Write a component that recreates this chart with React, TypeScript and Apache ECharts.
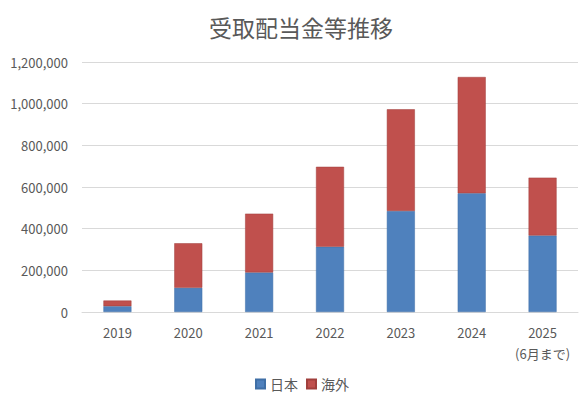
import React, { useEffect, useRef } from "react";
import * as echarts from "echarts";

const categories = ["2019", "2020", "2021", "2022", "2023", "2024", "2025\n(6月まで)"];
const japanValues = [28000, 116000, 190000, 313000, 485000, 570000, 367000];
const foreignValues = [27000, 214000, 282000, 384000, 488000, 558000, 278000];
const seriesNames = ["日本", "海外"];

export default function App() {
  const ref = useRef<HTMLDivElement>(null);
  useEffect(() => {
    document.body.style.margin = "0";
    const chart = echarts.init(ref.current!, null, { renderer: "svg" });
    const font = "'Noto Sans CJK JP', 'Noto Sans', sans-serif";
    chart.setOption({
      animation: false,
      backgroundColor: "#ffffff",
      title: {
        text: "受取配当金等推移",
        left: 296,
        textAlign: "center",
        top: 10,
        textStyle: { fontFamily: font, fontSize: 23, fontWeight: "normal", color: "#595959" },
      },
      legend: {
        data: seriesNames,
        bottom: 2,
        left: 250,
        itemWidth: 9,
        itemHeight: 9,
        itemGap: 8,
        icon: "rect",
        textStyle: { fontFamily: font, fontSize: 14, color: "#595959" },
      },
      grid: { left: 82, right: 8, top: 62, bottom: 86 },
      xAxis: {
        type: "category",
        data: categories,
        axisLine: { lineStyle: { color: "#d9d9d9" } },
        axisTick: { show: false },
        axisLabel: { interval: 0, fontFamily: font, fontSize: 13, color: "#595959", margin: 10, lineHeight: 21 },
      },
      yAxis: {
        type: "value",
        min: 0,
        max: 1200000,
        interval: 200000,
        axisLabel: {
          fontFamily: font,
          fontSize: 13,
          color: "#595959",
          margin: 14,
          formatter: (v: number) => v.toLocaleString("en-US"),
        },
        splitLine: { lineStyle: { color: "#d9d9d9" } },
        axisLine: { show: false },
        axisTick: { show: false },
      },
      series: [
        {
          name: seriesNames[0],
          type: "bar",
          stack: "total",
          data: japanValues,
          barWidth: 28,
          itemStyle: { color: "#4F81BD", borderColor: "#3f6fa6", borderWidth: 0.5 },
        },
        {
          name: seriesNames[1],
          type: "bar",
          stack: "total",
          data: foreignValues,
          barWidth: 28,
          itemStyle: { color: "#C0504D", borderColor: "#a03f3c", borderWidth: 0.5 },
        },
      ],
    });
    return () => chart.dispose();
  }, []);
  return <div ref={ref} style={{ width: 586, height: 398, position: "absolute", left: 0, top: 0 }} />;
}
